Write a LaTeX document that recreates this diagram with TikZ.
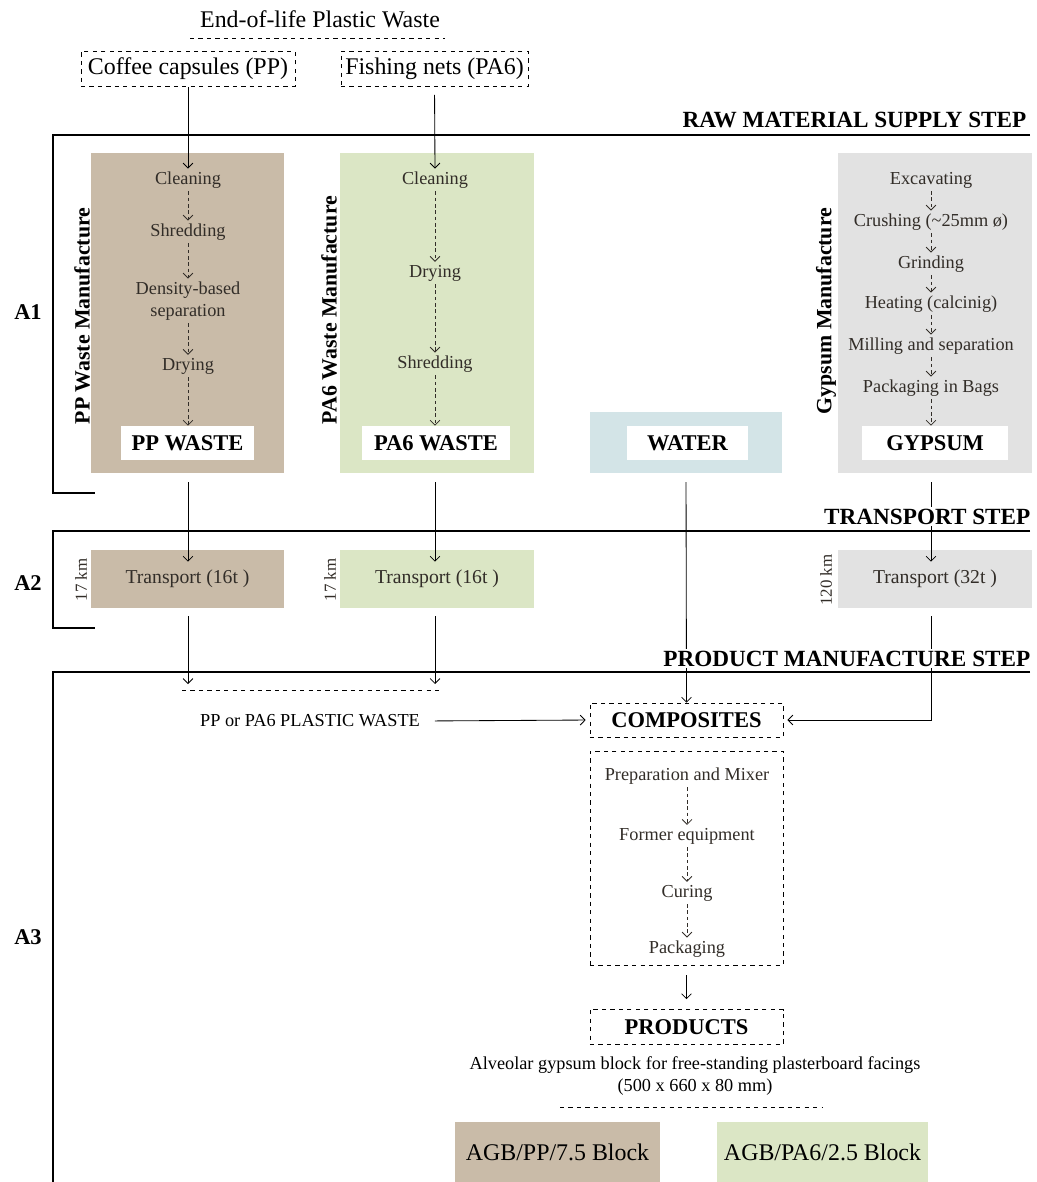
\documentclass[tikz,border=0pt]{standalone}
\usepackage{fontspec}
\setmainfont{Liberation Serif}
\usetikzlibrary{positioning, calc, arrows.meta}
\definecolor{ppcol}{RGB}{201,187,168}
\definecolor{pacol}{RGB}{219,230,197}
\definecolor{watcol}{RGB}{211,228,231}
\definecolor{gycol}{RGB}{226,226,226}
\definecolor{steptext}{RGB}{50,45,40}

\begin{document}
\begin{tikzpicture}[
    x=0.025cm, y=-0.025cm,
    >={Straight Barb[length=3.5pt, width=7pt]},
    region/.style={rectangle, minimum width=4.825cm, minimum height=8cm, inner sep=0pt},
    procstep/.style={text=steptext, font=\fontsize{13}{15.6}\selectfont, align=center, inner sep=2pt},
    product/.style={fill=white, minimum height=0.85cm, inner sep=0pt, font=\bfseries\fontsize{16}{18}\selectfont},
    tbox/.style={rectangle, minimum width=4.825cm, minimum height=1.45cm, inner sep=0pt, text=steptext, font=\fontsize{14}{16}\selectfont},
    dbox/.style={rectangle, draw, dashed, minimum width=4.825cm, minimum height=0.85cm, inner sep=0pt, font=\bfseries\fontsize{16}{18}\selectfont},
    vlabel/.style={rotate=90, inner sep=0pt, font=\bfseries\fontsize{15.5}{18}\selectfont},
    kmlabel/.style={rotate=90, inner sep=0pt, text=steptext, font=\fontsize{12}{14}\selectfont},
    header/.style={anchor=south east, fill=white, inner sep=1pt, font=\bfseries\fontsize{16.5}{19}\selectfont},
    steplabel/.style={font=\bfseries\fontsize{16}{18}\selectfont},
    frame/.style={line width=2pt},
    arrow/.style={->, line width=0.6pt},
    darrow/.style={->, line width=0.6pt, dash pattern=on 2.5pt off 2pt, draw=steptext}
]
\useasboundingbox (0,0) rectangle (1037,1182);

\node[font=\fontsize{17}{20}\selectfont] (eol) at (320,19) {End-of-life Plastic Waste};
\draw[dashed, line width=0.6pt] (190,38) -- (445,38);
\node[dbox, minimum width=5.35cm, minimum height=0.875cm, font=\fontsize{17}{20}\selectfont] (coffee) at (188,69) {Coffee capsules (PP)};
\node[dbox, minimum width=4.675cm, minimum height=0.875cm, font=\fontsize{17}{20}\selectfont] (fishing) at (434.5,69) {Fishing nets (PA6)};

\node[region, fill=ppcol] (ppbox) at (187.5,313) {};
\node[region, fill=pacol] (pabox) at (437,313) {};
\node[region, fill=watcol, minimum height=1.525cm, minimum width=4.8cm] (watbox) at (686,442.5) {};
\node[region, fill=gycol] (gybox) at (935,313) {};

\node[vlabel] (pplab) at (82,316) {PP Waste Manufacture};
\node[vlabel] (palab) at (329,310) {PA6 Waste Manufacture};
\node[vlabel] (gylab) at (826,311) {Gypsum Manufacture};

\node[procstep] (ppclean) at (188,180) {Cleaning};
\node[procstep, below of=ppclean, node distance=1.3cm] (ppshred) {Shredding};
\node[procstep, below of=ppshred, node distance=1.725cm] (ppdens) {Density-based\\separation};
\node[procstep, below of=ppdens, node distance=1.625cm] (ppdry) {Drying};
\node[product, minimum width=3.325cm] (ppwaste) at (187.5,443) {PP WASTE};

\node[procstep] (paclean) at (435,180) {Cleaning};
\node[procstep, below of=paclean, node distance=2.325cm] (padry) {Drying};
\node[procstep, below of=padry, node distance=2.275cm] (pashred) {Shredding};
\node[product, minimum width=3.7cm] (pawaste) at (436,443) {PA6 WASTE};

\node[product, minimum width=3.025cm] (water) at (687.5,443) {WATER};

\node[procstep] (gyexc) at (931,180) {Excavating};
\node[procstep, below of=gyexc, node distance=1.05cm] (gycrush) {Crushing (\textasciitilde 25mm ø)};
\node[procstep, below of=gycrush, node distance=1.05cm] (gygrind) {Grinding};
\node[procstep, below of=gygrind, node distance=1.0cm] (gyheat) {Heating (calcinig)};
\node[procstep, below of=gyheat, node distance=1.05cm] (gymill) {Milling and separation};
\node[procstep, below of=gymill, node distance=1.05cm] (gypack) {Packaging in Bags};
\node[product, minimum width=3.65cm] (gypsum) at (935,443) {GYPSUM};

\draw[arrow] (coffee.south) -- (ppclean.north);
\draw[arrow, shorten <=0.2cm] (fishing.south) -- (paclean.north);
\draw[darrow] (ppclean) -- (ppshred);
\draw[darrow] (ppshred) -- (ppdens);
\draw[darrow] (ppdens) -- (ppdry);
\draw[darrow] (ppdry) -- (ppdry |- ppwaste.north);
\draw[darrow] (paclean) -- (padry);
\draw[darrow] (padry) -- (pashred);
\draw[darrow] (pashred) -- (pashred |- pawaste.north);
\draw[darrow] (gyexc) -- (gycrush);
\draw[darrow] (gycrush) -- (gygrind);
\draw[darrow] (gygrind) -- (gyheat);
\draw[darrow] (gyheat) -- (gymill);
\draw[darrow] (gymill) -- (gypack);
\draw[darrow] (gypack) -- (gypack |- gypsum.north);

\node[tbox, fill=ppcol] (pptr) at (187.5,579) {Transport (16t )};
\node[tbox, fill=pacol] (patr) at (437,579) {Transport (16t )};
\node[tbox, fill=gycol] (gytr) at (935,579) {Transport (32t )};
\node[kmlabel] (ppkm) at (81,580) {17 km};
\node[kmlabel] (pakm) at (330,580) {17 km};
\node[kmlabel] (gykm) at (826,580) {120 km};

\draw[arrow, shorten <=0.22cm] (ppbox.south -| ppclean) -- ($(pptr.north -| ppclean)+(0,12)$);
\draw[arrow, shorten <=0.22cm] (pabox.south -| paclean) -- ($(patr.north -| paclean)+(0,12)$);
\draw[arrow, shorten <=0.22cm] (gybox.south -| gyexc) -- ($(gytr.north -| gyexc)+(0,12)$);

\coordinate (mixL) at (182,690);
\coordinate (mixR) at (440,690);
\draw[dashed, line width=0.6pt] (mixL) -- (mixR);
\draw[arrow, shorten <=0.2cm, shorten >=0.15cm] (pptr.south -| ppclean) -- (ppclean |- mixL);
\draw[arrow, shorten <=0.2cm, shorten >=0.15cm] (patr.south -| paclean) -- (paclean |- mixL);

\node[dbox] (comp) at (686.5,720) {COMPOSITES};
\node[procstep, text=black] (plastic) at (310,721) {PP or PA6 PLASTIC WASTE};
\draw[arrow, shorten <=0.3cm, shorten >=0.1cm] (plastic.east) -- (comp.west);
\draw[arrow, shorten <=0.22cm] (watbox.south) -- (comp.north);
\draw[arrow, shorten <=0.2cm, shorten >=0.1cm] (gytr.south -| gyexc) |- (comp.east);

\draw[frame] (1030,135) -- (53,135) -- (53,493) -- (95,493);
\node[header] at (1028,130) {RAW MATERIAL SUPPLY STEP};
\node[steplabel] (a1) at (28,312) {A1};
\draw[frame] (1030,531) -- (53,531) -- (53,628) -- (95,628);
\node[header] at (1032,526) {TRANSPORT STEP};
\node[steplabel] (a2) at (28,583) {A2};
\draw[frame] (1030,672) -- (53,672) -- (53,1182);
\node[header] at (1032,668) {PRODUCT MANUFACTURE STEP};
\node[steplabel] (a3) at (28,937) {A3};

\node[dbox, minimum height=5.35cm] (process) at (686.5,858) {};
\node[procstep] (prep) at (687,776) {Preparation and Mixer};
\node[procstep, below of=prep, node distance=1.5cm] (former) {Former equipment};
\node[procstep, below of=former, node distance=1.425cm] (curing) {Curing};
\node[procstep, below of=curing, node distance=1.4cm] (packg) {Packaging};
\draw[darrow] (prep) -- (former);
\draw[darrow] (former) -- (curing);
\draw[darrow] (curing) -- (packg);

\node[dbox, minimum height=0.875cm] (prod) at (686.5,1027) {PRODUCTS};
\draw[arrow, shorten <=0.25cm, shorten >=0.25cm] (process.south) -- (prod.north);

\node[procstep, text=black] (desc) at (695,1076) {Alveolar gypsum block for free-standing plasterboard facings\\(500 x 660 x 80 mm)};
\draw[dashed, line width=0.6pt] (560,1107) -- (822,1107);

\node[tbox, fill=ppcol, minimum width=5.125cm, minimum height=1.5cm, text=black, font=\fontsize{17}{20}\selectfont] (agbpp) at (557.5,1152) {AGB/PP/7.5 Block};
\node[tbox, fill=pacol, minimum width=5.275cm, minimum height=1.5cm, text=black, font=\fontsize{17}{20}\selectfont] (agbpa) at (822.5,1152) {AGB/PA6/2.5 Block};

\end{tikzpicture}
\end{document}
